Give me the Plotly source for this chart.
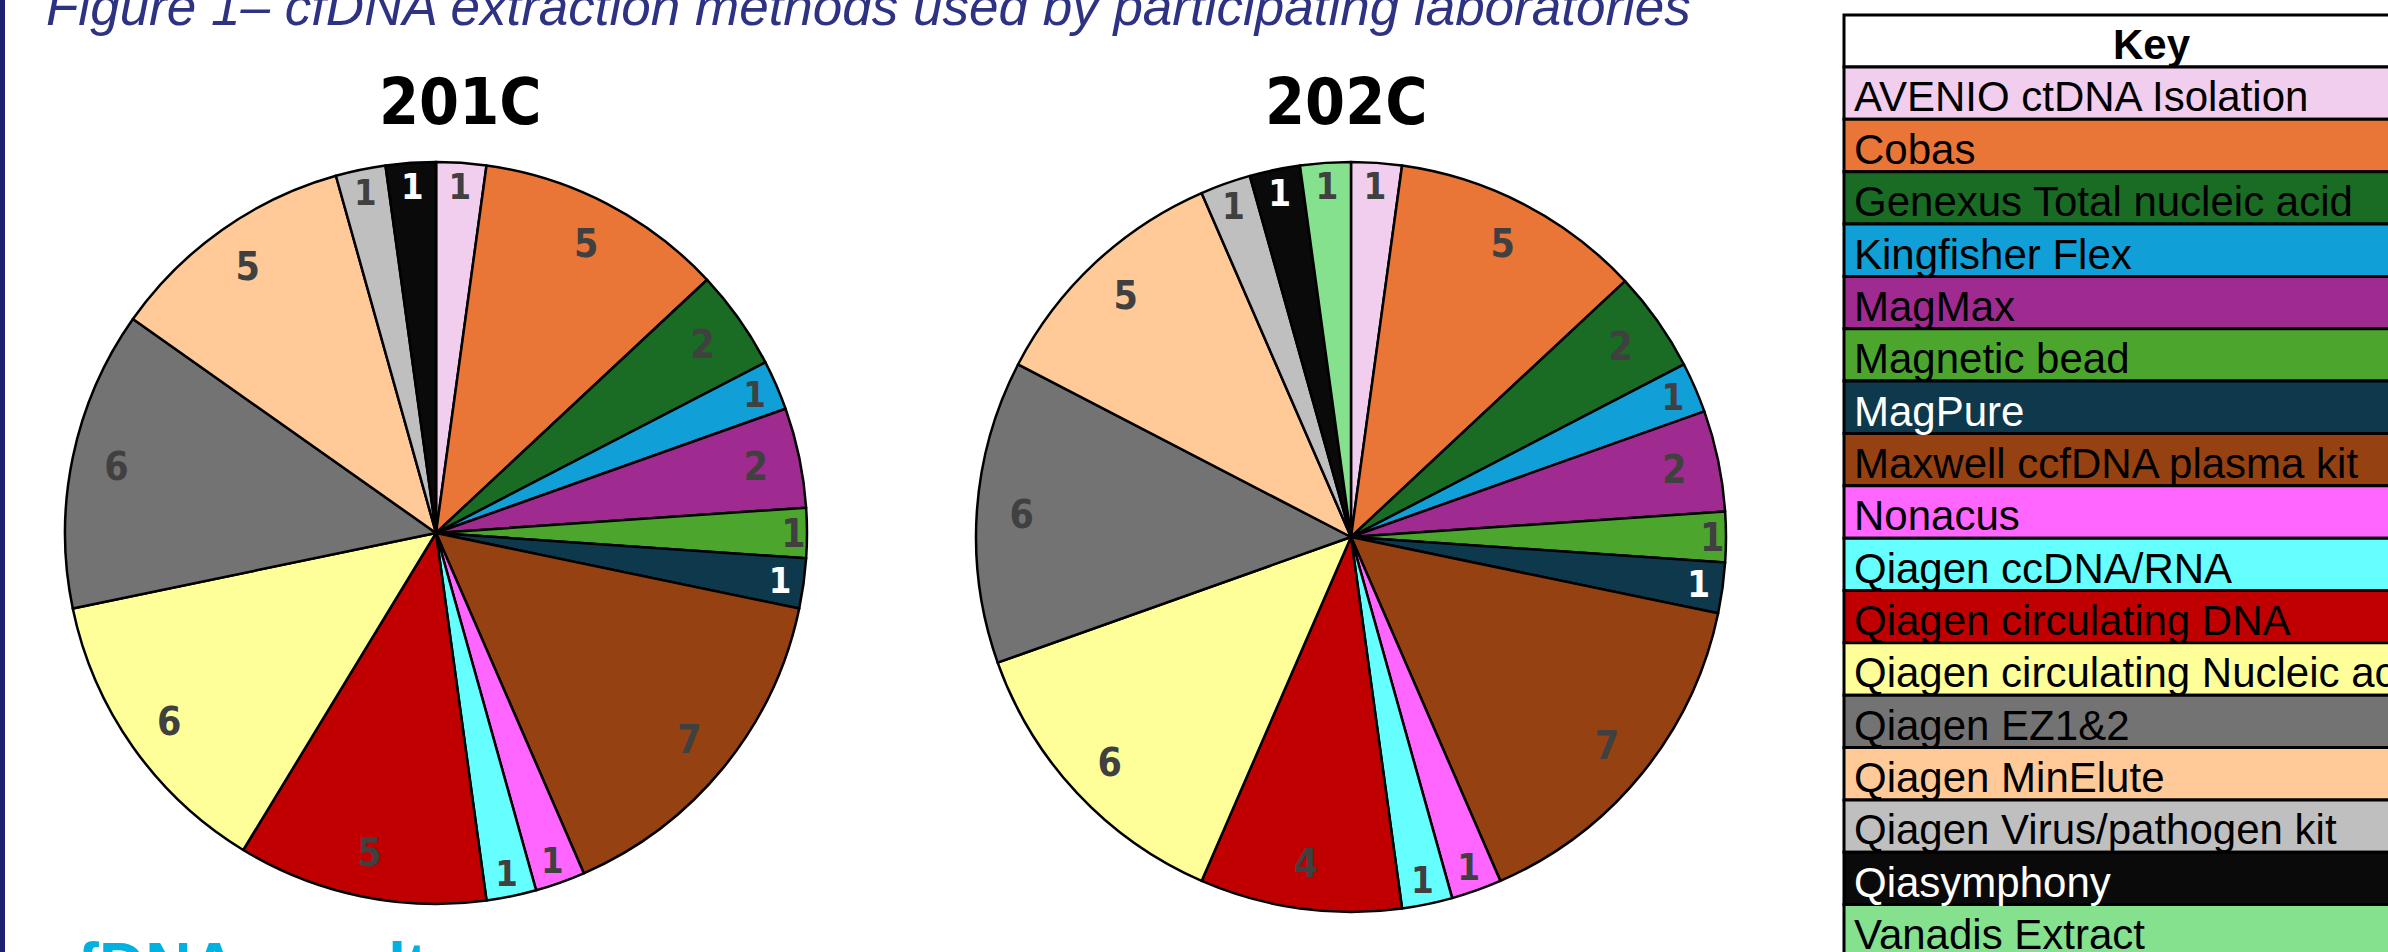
import plotly.graph_objects as go

# ---------------- data ----------------
methods = [
    "AVENIO ctDNA Isolation", "Cobas", "Genexus Total nucleic acid", "Kingfisher Flex",
    "MagMax", "Magnetic bead", "MagPure", "Maxwell ccfDNA plasma kit", "Nonacus",
    "Qiagen ccDNA/RNA", "Qiagen circulating DNA", "Qiagen circulating Nucleic acid",
    "Qiagen EZ1&2", "Qiagen MinElute", "Qiagen Virus/pathogen kit", "Qiasymphony",
    "Vanadis Extract",
]
counts_201C = [1, 5, 2, 1, 2, 1, 1, 7, 1, 1, 5, 6, 6, 5, 1, 1, 0]
counts_202C = [1, 5, 2, 1, 2, 1, 1, 7, 1, 1, 4, 6, 6, 5, 1, 1, 1]
slice_colors = [
    "#F2CEEE", "#E97536", "#1A6B24", "#109FD7", "#A02B90", "#4CA62E", "#0E384C",
    "#964112", "#FF66FF", "#66FFFF", "#C00000", "#FFFF99", "#737373", "#FFCA98",
    "#BFBFBF", "#0A0A0A", "#86E18E",
]
value_label_colors = [
    "#404040", "#404040", "#404040", "#404040", "#404040", "#404040", "#FFFFFF",
    "#404040", "#404040", "#404040", "#404040", "#404040", "#404040", "#404040",
    "#404040", "#FFFFFF", "#404040",
]
key_text_colors = [
    "black", "black", "black", "black", "black", "black", "white", "black", "black",
    "black", "black", "black", "black", "black", "black", "white", "black",
]
chart_titles = ["201C", "202C"]
figure_title = "Figure 1\u2013 cfDNA extraction methods used by participating laboratories"
section_heading = "cfDNA results"

# ---------------- layout helpers ----------------
W, H = 2388, 952
def px(x):
    return x / W
def py(y):
    return 1 - y / H

NARROW = "Liberation Sans Narrow, DejaVu Sans Condensed, Arial Narrow, sans-serif"
ARIAL = "Liberation Sans, Arial, sans-serif"

fig = go.Figure()

pie_domains = [
    dict(x=[px(65), px(807)], y=[py(904), py(162)]),
    dict(x=[px(976), px(1726)], y=[py(912), py(162)]),
]

for counts, dom in zip([counts_201C, counts_202C], pie_domains):
    # coloured pie
    fig.add_trace(go.Pie(
        labels=methods, values=counts, domain=dom, sort=False,
        direction="clockwise", rotation=0,
        marker=dict(colors=slice_colors, line=dict(color="black", width=2.5)),
        textinfo="none", showlegend=False, hoverinfo="label+value",
    ))
    # transparent ring overlay that carries the value labels near the rim
    fig.add_trace(go.Pie(
        labels=methods, values=counts, domain=dom, sort=False,
        direction="clockwise", rotation=0, hole=0.76,
        marker=dict(colors=["rgba(0,0,0,0)"] * len(methods), line=dict(width=0)),
        textinfo="value", textposition="inside", insidetextorientation="horizontal",
        textfont=dict(family=NARROW, size=39, color=value_label_colors, weight="bold"),
        showlegend=False, hoverinfo="skip",
    ))

annotations = []
shapes = []

# figure title (partly cut off at top)
annotations.append(dict(
    text=figure_title, xref="paper", yref="paper", x=px(44), y=py(38),
    xanchor="left", yanchor="bottom", showarrow=False,
    font=dict(family=ARIAL, size=53, color="#2E3283", style="italic"),
))

# pie titles
for t, cx in zip(chart_titles, [460, 1346]):
    annotations.append(dict(
        text=t, xref="paper", yref="paper", x=px(cx), y=py(102),
        xanchor="center", yanchor="middle", showarrow=False,
        font=dict(family=NARROW, size=64, color="black", weight="bold"),
    ))

# section heading at the bottom (mostly cut off)
annotations.append(dict(
    text=section_heading, xref="paper", yref="paper", x=px(40), y=py(966),
    xanchor="left", yanchor="middle", showarrow=False,
    font=dict(family=ARIAL, size=64, color="#00B2E2", weight="bold"),
))

# left navy bar
shapes.append(dict(type="rect", xref="paper", yref="paper", x0=0, x1=px(5),
                   y0=0, y1=1, fillcolor="#1C2070", line=dict(width=0), layer="above"))

# key table
tx0, tx1 = 1844, 2470
top, head_h, row_h = 15, 52, 52.35
shapes.append(dict(type="rect", xref="paper", yref="paper",
                   x0=px(tx0), x1=px(tx1), y0=py(top + head_h), y1=py(top),
                   fillcolor="white", line=dict(color="black", width=3)))
annotations.append(dict(
    text="<b>Key</b>", xref="paper", yref="paper", x=px(2152), y=py(top + head_h / 2 + 3),
    xanchor="center", yanchor="middle", showarrow=False,
    font=dict(family=ARIAL, size=42, color="black"),
))
for i, (name, col, tcol) in enumerate(zip(methods, slice_colors, key_text_colors)):
    y0 = top + head_h + i * row_h
    shapes.append(dict(type="rect", xref="paper", yref="paper",
                       x0=px(tx0), x1=px(tx1), y0=py(y0 + row_h), y1=py(y0),
                       fillcolor=col, line=dict(color="black", width=3)))
    annotations.append(dict(
        text=name, xref="paper", yref="paper", x=px(1852), y=py(y0 + 30),
        xanchor="left", yanchor="middle", showarrow=False,
        font=dict(family=ARIAL, size=42, color=tcol),
    ))

fig.update_layout(
    width=W, height=H, margin=dict(l=0, r=0, t=0, b=0),
    paper_bgcolor="white", plot_bgcolor="white",
    annotations=annotations, shapes=shapes, showlegend=False,
)

fig.write_html("out.html")
